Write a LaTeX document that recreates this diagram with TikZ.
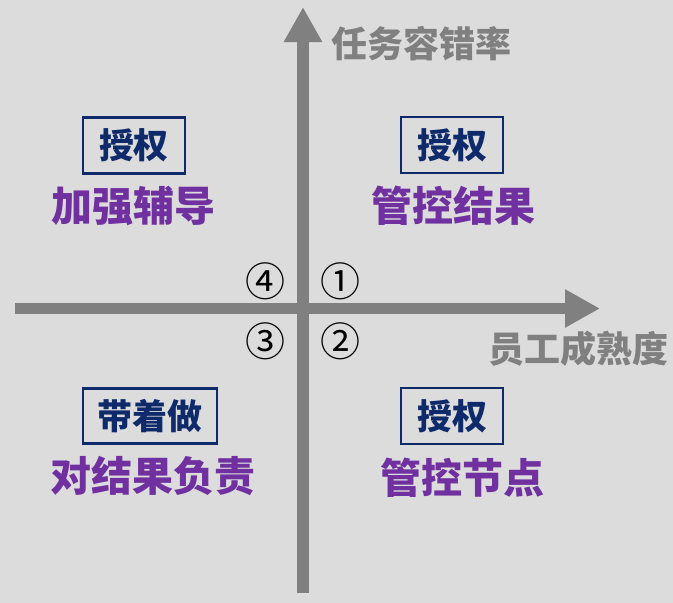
\documentclass[tikz,border=0pt]{standalone}
\usepackage{fontspec}
\usepackage{xcolor}
\usepackage{tikz}
\usetikzlibrary{arrows.meta,positioning}

\newfontfamily\cjk{Noto Sans CJK SC}
\definecolor{bgGrey}{HTML}{DCDCDC}
\definecolor{axisGrey}{HTML}{808080}
\definecolor{tagNavy}{HTML}{0E2A6A}
\definecolor{titlePurple}{HTML}{7030A0}

\begin{document}
\begin{tikzpicture}[x=1pt,y=-1pt,
		tagbox/.style={draw=tagNavy,line width=2.5pt,text=tagNavy,
			font=\cjk\bfseries\fontsize{35}{35}\selectfont,
			minimum height=56pt,inner sep=0},
		quadtitle/.style={text=titlePurple,inner sep=0,
			font=\cjk\bfseries\fontsize{41}{41}\selectfont},
		circnum/.style={inner sep=0,font=\cjk\fontsize{40}{40}\selectfont},
		axislabel/.style={text=axisGrey,inner sep=0,
			font=\cjk\bfseries\fontsize{36}{36}\selectfont},
		axisarrow/.style={draw=axisGrey,line width=11.5pt,
			-{Triangle[width=36pt,length=35pt]}}]

		\fill[bgGrey] (0,0) rectangle (673,603);
		\useasboundingbox (0,0) rectangle (673,603);

		% axes
		\coordinate (y-start) at (303,593);
		\coordinate (y-end) at (303,7);
		\coordinate (x-start) at (15,308.5);
		\coordinate (x-end) at (600,308.5);

		\draw[axisarrow] (y-start) -- (y-end);
		\draw[axisarrow] (x-start) -- (x-end);

		\node[axislabel] (tolerance) at (421.5,44) {任务容错率};
		\node[axislabel] (maturity) at (578.5,349) {员工成熟度};

		% quadrant numbers
		\node[circnum] (q1) at (340,281) {①};
		\node[circnum] (q2) at (340,341) {②};
		\node[circnum] (q3) at (265,341) {③};
		\node[circnum] (q4) at (265,281) {④};

		% quadrants
		\node[tagbox,minimum width=102pt] (tag-tl) at (134,145.5) {授权};
		\node[quadtitle] (title-tl) at (134,206) {加强辅导};

		\node[tagbox,minimum width=102pt] (tag-tr) at (452,145) {授权};
		\node[quadtitle] (title-tr) at (453.5,206) {管控结果};

		\node[tagbox,minimum width=134pt,minimum height=55pt] (tag-bl) at (150,416) {带着做};
		\node[quadtitle] (title-bl) at (153,476) {对结果负责};

		\node[tagbox,minimum width=102pt] (tag-br) at (452,416) {授权};
		\node[quadtitle] (title-br) at (462,478) {管控节点};

	\end{tikzpicture}
\end{document}
